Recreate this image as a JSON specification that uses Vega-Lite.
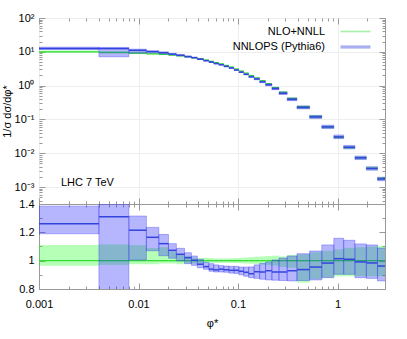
{
  "$schema": "https://vega.github.io/schema/vega-lite/v6.json",
  "padding": {"left": 0, "top": 11, "right": 21, "bottom": 0},
  "config": {
    "font": "Liberation Sans",
    "view": {"stroke": "#999999", "strokeWidth": 1},
    "axis": {"labelFont": "Liberation Sans", "labelFontSize": 11, "labelColor": "#000000", "titleFont": "Liberation Sans", "titleFontSize": 11, "titleFontWeight": "normal", "titleColor": "#000000", "domain": false, "tickColor": "#999999", "grid": false, "labelFlush": false},
    "legend": {"labelFont": "Liberation Sans", "labelFontSize": 11, "labelColor": "#000000"}
  },
  "datasets": {
    "d": [
      {"s":"NLO+NNLL","lo":0.001,"hi":0.004,"v":9.9,"vl":9.55,"vh":10.99,"r":1,"rl":0.965,"rh":1.11},
      {"s":"NLO+NNLL","lo":0.004,"hi":0.008,"v":9.5,"vl":9.22,"vh":10.59,"r":1,"rl":0.97,"rh":1.115},
      {"s":"NLO+NNLL","lo":0.008,"hi":0.012,"v":9.1,"vl":8.87,"vh":10.1,"r":1,"rl":0.975,"rh":1.11},
      {"s":"NLO+NNLL","lo":0.012,"hi":0.016,"v":8.7,"vl":8.48,"vh":9.48,"r":1,"rl":0.975,"rh":1.09},
      {"s":"NLO+NNLL","lo":0.016,"hi":0.02,"v":8.4,"vl":8.23,"vh":9.2,"r":1,"rl":0.98,"rh":1.095},
      {"s":"NLO+NNLL","lo":0.02,"hi":0.024,"v":8.0,"vl":7.84,"vh":8.52,"r":1,"rl":0.98,"rh":1.065},
      {"s":"NLO+NNLL","lo":0.024,"hi":0.029,"v":7.6,"vl":7.41,"vh":7.94,"r":1,"rl":0.975,"rh":1.045},
      {"s":"NLO+NNLL","lo":0.029,"hi":0.034,"v":7.1,"vl":6.96,"vh":7.33,"r":1,"rl":0.98,"rh":1.033},
      {"s":"NLO+NNLL","lo":0.034,"hi":0.039,"v":6.7,"vl":6.57,"vh":6.84,"r":1,"rl":0.98,"rh":1.021},
      {"s":"NLO+NNLL","lo":0.039,"hi":0.045,"v":6.2,"vl":6.09,"vh":6.31,"r":1,"rl":0.982,"rh":1.018},
      {"s":"NLO+NNLL","lo":0.045,"hi":0.051,"v":5.7,"vl":5.61,"vh":5.81,"r":1,"rl":0.985,"rh":1.02},
      {"s":"NLO+NNLL","lo":0.051,"hi":0.057,"v":5.25,"vl":5.17,"vh":5.34,"r":1,"rl":0.985,"rh":1.018},
      {"s":"NLO+NNLL","lo":0.057,"hi":0.064,"v":4.8,"vl":4.73,"vh":4.87,"r":1,"rl":0.985,"rh":1.015},
      {"s":"NLO+NNLL","lo":0.064,"hi":0.072,"v":4.4,"vl":4.33,"vh":4.47,"r":1,"rl":0.985,"rh":1.015},
      {"s":"NLO+NNLL","lo":0.072,"hi":0.081,"v":3.95,"vl":3.89,"vh":4.01,"r":1,"rl":0.985,"rh":1.015},
      {"s":"NLO+NNLL","lo":0.081,"hi":0.091,"v":3.55,"vl":3.49,"vh":3.61,"r":1,"rl":0.984,"rh":1.016},
      {"s":"NLO+NNLL","lo":0.091,"hi":0.102,"v":3.1,"vl":3.05,"vh":3.16,"r":1,"rl":0.983,"rh":1.018},
      {"s":"NLO+NNLL","lo":0.102,"hi":0.114,"v":2.7,"vl":2.65,"vh":2.75,"r":1,"rl":0.982,"rh":1.02},
      {"s":"NLO+NNLL","lo":0.114,"hi":0.128,"v":2.35,"vl":2.3,"vh":2.4,"r":1,"rl":0.98,"rh":1.022},
      {"s":"NLO+NNLL","lo":0.128,"hi":0.145,"v":2.0,"vl":1.96,"vh":2.05,"r":1,"rl":0.978,"rh":1.025},
      {"s":"NLO+NNLL","lo":0.145,"hi":0.165,"v":1.7,"vl":1.66,"vh":1.75,"r":1,"rl":0.975,"rh":1.028},
      {"s":"NLO+NNLL","lo":0.165,"hi":0.189,"v":1.4,"vl":1.36,"vh":1.44,"r":1,"rl":0.972,"rh":1.03},
      {"s":"NLO+NNLL","lo":0.189,"hi":0.219,"v":1.14,"vl":1.1,"vh":1.18,"r":1,"rl":0.968,"rh":1.032},
      {"s":"NLO+NNLL","lo":0.219,"hi":0.258,"v":0.88,"vl":0.849,"vh":0.911,"r":1,"rl":0.965,"rh":1.035},
      {"s":"NLO+NNLL","lo":0.258,"hi":0.312,"v":0.64,"vl":0.611,"vh":0.659,"r":1,"rl":0.955,"rh":1.03},
      {"s":"NLO+NNLL","lo":0.312,"hi":0.391,"v":0.42,"vl":0.399,"vh":0.437,"r":1,"rl":0.95,"rh":1.04},
      {"s":"NLO+NNLL","lo":0.391,"hi":0.524,"v":0.24,"vl":0.203,"vh":0.251,"r":1,"rl":0.845,"rh":1.045},
      {"s":"NLO+NNLL","lo":0.524,"hi":0.695,"v":0.124,"vl":0.108,"vh":0.131,"r":1,"rl":0.87,"rh":1.06},
      {"s":"NLO+NNLL","lo":0.695,"hi":0.918,"v":0.061,"vl":0.0537,"vh":0.0653,"r":1,"rl":0.88,"rh":1.07},
      {"s":"NLO+NNLL","lo":0.918,"hi":1.153,"v":0.03,"vl":0.0267,"vh":0.0324,"r":1,"rl":0.89,"rh":1.08},
      {"s":"NLO+NNLL","lo":1.153,"hi":1.496,"v":0.0149,"vl":0.01326,"vh":0.01624,"r":1,"rl":0.89,"rh":1.09},
      {"s":"NLO+NNLL","lo":1.496,"hi":1.947,"v":0.0074,"vl":0.00659,"vh":0.0081,"r":1,"rl":0.89,"rh":1.095},
      {"s":"NLO+NNLL","lo":1.947,"hi":2.522,"v":0.0036,"vl":0.0032,"vh":0.00396,"r":1,"rl":0.89,"rh":1.1},
      {"s":"NLO+NNLL","lo":2.522,"hi":3.277,"v":0.0018,"vl":0.0016,"vh":0.00199,"r":1,"rl":0.89,"rh":1.105},
      {"s":"NNLOPS (Pythia6)","lo":0.001,"hi":0.004,"v":12.47,"vl":11.78,"vh":13.71,"r":1.26,"rl":1.19,"rh":1.385},
      {"s":"NNLOPS (Pythia6)","lo":0.004,"hi":0.008,"v":12.45,"vl":7.13,"vh":13.49,"r":1.31,"rl":0.75,"rh":1.42},
      {"s":"NNLOPS (Pythia6)","lo":0.008,"hi":0.012,"v":11.06,"vl":9.15,"vh":11.97,"r":1.215,"rl":1.005,"rh":1.315},
      {"s":"NNLOPS (Pythia6)","lo":0.012,"hi":0.016,"v":10.14,"vl":9.31,"vh":10.74,"r":1.165,"rl":1.07,"rh":1.235},
      {"s":"NNLOPS (Pythia6)","lo":0.016,"hi":0.02,"v":9.41,"vl":8.69,"vh":9.95,"r":1.12,"rl":1.035,"rh":1.185},
      {"s":"NNLOPS (Pythia6)","lo":0.02,"hi":0.024,"v":8.58,"vl":8.14,"vh":8.96,"r":1.073,"rl":1.017,"rh":1.12},
      {"s":"NNLOPS (Pythia6)","lo":0.024,"hi":0.029,"v":7.94,"vl":7.58,"vh":8.26,"r":1.045,"rl":0.998,"rh":1.087},
      {"s":"NNLOPS (Pythia6)","lo":0.029,"hi":0.034,"v":7.25,"vl":6.95,"vh":7.5,"r":1.021,"rl":0.979,"rh":1.056},
      {"s":"NNLOPS (Pythia6)","lo":0.034,"hi":0.039,"v":6.72,"vl":6.48,"vh":6.92,"r":1.003,"rl":0.967,"rh":1.033},
      {"s":"NNLOPS (Pythia6)","lo":0.039,"hi":0.045,"v":6.05,"vl":5.89,"vh":6.26,"r":0.975,"rl":0.95,"rh":1.01},
      {"s":"NNLOPS (Pythia6)","lo":0.045,"hi":0.051,"v":5.46,"vl":5.35,"vh":5.63,"r":0.958,"rl":0.939,"rh":0.988},
      {"s":"NNLOPS (Pythia6)","lo":0.051,"hi":0.057,"v":4.94,"vl":4.86,"vh":5.14,"r":0.94,"rl":0.925,"rh":0.979},
      {"s":"NNLOPS (Pythia6)","lo":0.057,"hi":0.064,"v":4.49,"vl":4.42,"vh":4.66,"r":0.935,"rl":0.92,"rh":0.97},
      {"s":"NNLOPS (Pythia6)","lo":0.064,"hi":0.072,"v":4.14,"vl":4.05,"vh":4.25,"r":0.94,"rl":0.92,"rh":0.965},
      {"s":"NNLOPS (Pythia6)","lo":0.072,"hi":0.081,"v":3.7,"vl":3.63,"vh":3.8,"r":0.936,"rl":0.918,"rh":0.962},
      {"s":"NNLOPS (Pythia6)","lo":0.081,"hi":0.091,"v":3.31,"vl":3.24,"vh":3.41,"r":0.932,"rl":0.912,"rh":0.96},
      {"s":"NNLOPS (Pythia6)","lo":0.091,"hi":0.102,"v":2.89,"vl":2.82,"vh":2.98,"r":0.932,"rl":0.91,"rh":0.96},
      {"s":"NNLOPS (Pythia6)","lo":0.102,"hi":0.114,"v":2.5,"vl":2.43,"vh":2.58,"r":0.925,"rl":0.9,"rh":0.955},
      {"s":"NNLOPS (Pythia6)","lo":0.114,"hi":0.128,"v":2.16,"vl":2.09,"vh":2.24,"r":0.918,"rl":0.89,"rh":0.955},
      {"s":"NNLOPS (Pythia6)","lo":0.128,"hi":0.145,"v":1.82,"vl":1.76,"vh":1.91,"r":0.908,"rl":0.88,"rh":0.956},
      {"s":"NNLOPS (Pythia6)","lo":0.145,"hi":0.165,"v":1.57,"vl":1.49,"vh":1.65,"r":0.922,"rl":0.875,"rh":0.97},
      {"s":"NNLOPS (Pythia6)","lo":0.165,"hi":0.189,"v":1.29,"vl":1.22,"vh":1.37,"r":0.92,"rl":0.869,"rh":0.98},
      {"s":"NNLOPS (Pythia6)","lo":0.189,"hi":0.219,"v":1.06,"vl":0.985,"vh":1.13,"r":0.929,"rl":0.864,"rh":0.991},
      {"s":"NNLOPS (Pythia6)","lo":0.219,"hi":0.258,"v":0.81,"vl":0.759,"vh":0.884,"r":0.92,"rl":0.862,"rh":1.005},
      {"s":"NNLOPS (Pythia6)","lo":0.258,"hi":0.312,"v":0.589,"vl":0.55,"vh":0.652,"r":0.92,"rl":0.86,"rh":1.019},
      {"s":"NNLOPS (Pythia6)","lo":0.312,"hi":0.391,"v":0.39,"vl":0.36,"vh":0.434,"r":0.929,"rl":0.857,"rh":1.033},
      {"s":"NNLOPS (Pythia6)","lo":0.391,"hi":0.524,"v":0.225,"vl":0.206,"vh":0.252,"r":0.937,"rl":0.86,"rh":1.049},
      {"s":"NNLOPS (Pythia6)","lo":0.524,"hi":0.695,"v":0.118,"vl":0.107,"vh":0.132,"r":0.955,"rl":0.864,"rh":1.068},
      {"s":"NNLOPS (Pythia6)","lo":0.695,"hi":0.918,"v":0.06,"vl":0.0537,"vh":0.0678,"r":0.983,"rl":0.88,"rh":1.111},
      {"s":"NNLOPS (Pythia6)","lo":0.918,"hi":1.153,"v":0.0304,"vl":0.0271,"vh":0.0347,"r":1.014,"rl":0.904,"rh":1.158},
      {"s":"NNLOPS (Pythia6)","lo":1.153,"hi":1.496,"v":0.01505,"vl":0.01347,"vh":0.01705,"r":1.01,"rl":0.904,"rh":1.144},
      {"s":"NNLOPS (Pythia6)","lo":1.496,"hi":1.947,"v":0.00733,"vl":0.00651,"vh":0.00827,"r":0.991,"rl":0.88,"rh":1.118},
      {"s":"NNLOPS (Pythia6)","lo":1.947,"hi":2.522,"v":0.00354,"vl":0.00315,"vh":0.004,"r":0.984,"rl":0.875,"rh":1.111},
      {"s":"NNLOPS (Pythia6)","lo":2.522,"hi":3.277,"v":0.00173,"vl":0.00154,"vh":0.00196,"r":0.962,"rl":0.857,"rh":1.089}
    ]
  },
  "spacing": 0,
  "bounds": "flush",
  "vconcat": [
    {
      "width": 346,
      "height": 186,
      "data": {"name": "d"},
      "resolve": {"axis": {"x": "independent", "y": "independent"}},
      "layer": [
        {
          "transform": [{"filter": "datum.s == 'NLO+NNLL'"}],
          "mark": {"type": "rect", "fill": "#22ff22", "fillOpacity": 0.33, "clip": true},
          "encoding": {
            "x": {"field": "lo", "type": "quantitative", "scale": {"type": "log", "domain": [0.001, 3], "nice": false},
              "axis": {"orient": "bottom", "values": [0.001, 0.01, 0.1, 1], "labels": false, "tickSize": -6, "grid": true, "gridColor": "#eeeeee", "title": null, "minExtent": 0, "maxExtent": 0}},
            "x2": {"field": "hi"},
            "y": {"field": "vl", "type": "quantitative", "scale": {"type": "log", "domain": [0.000316, 100], "nice": false},
              "axis": {"orient": "left", "values": [0.001, 0.01, 0.1, 1, 10, 100], "tickSize": -6, "labelPadding": 11, "grid": true, "gridColor": "#eeeeee", "title": "1/σ dσ/dφ*", "titlePadding": 2,
                "labelExpr": "datum.value >= 50 ? '10²' : datum.value >= 5 ? '10¹' : datum.value >= 0.5 ? '10⁰' : datum.value >= 0.05 ? '10⁻¹' : datum.value >= 0.005 ? '10⁻²' : '10⁻³'"}},
            "y2": {"field": "vh"}
          }
        },
        {
          "transform": [{"filter": "datum.s == 'NLO+NNLL'"}],
          "mark": {"type": "rule", "strokeWidth": 1.3, "clip": true},
          "encoding": {
            "x": {"field": "lo", "type": "quantitative",
              "axis": {"orient": "bottom", "values": [0.002,0.003,0.004,0.005,0.006,0.007,0.008,0.009,0.02,0.03,0.04,0.05,0.06,0.07,0.08,0.09,0.2,0.3,0.4,0.5,0.6,0.7,0.8,0.9,2,3], "labels": false, "tickSize": -3, "grid": false, "title": null, "minExtent": 0, "maxExtent": 0}},
            "x2": {"field": "hi"},
            "y": {"field": "v", "type": "quantitative",
              "axis": {"orient": "left", "values": [0.0004,0.0005,0.0006,0.0007,0.0008,0.0009,0.002,0.003,0.004,0.005,0.006,0.007,0.008,0.009,0.02,0.03,0.04,0.05,0.06,0.07,0.08,0.09,0.2,0.3,0.4,0.5,0.6,0.7,0.8,0.9,2,3,4,5,6,7,8,9,20,30,40,50,60,70,80,90], "labels": false, "tickSize": -3, "grid": false, "title": null, "minExtent": 0, "maxExtent": 0}},
            "stroke": {"field": "s", "type": "nominal",
              "scale": {"domain": ["NLO+NNLL", "NNLOPS (Pythia6)"], "range": ["#33dd33", "#3344dd"]},
              "legend": {"title": null, "orient": "top-right", "symbolType": "stroke", "symbolSize": 900, "symbolStrokeWidth": 2, "symbolOpacity": 0.42, "labelAlign": "right", "labelOffset": -36, "rowPadding": 3.5, "offset": 8,
                "encode": {"symbols": {"update": {"strokeWidth": {"signal": "datum.label == 'NLO+NNLL' ? 1.6 : 3.2"}}}}}}
          }
        },
        {
          "transform": [{"filter": "datum.s == 'NNLOPS (Pythia6)'"}],
          "mark": {"type": "rect", "fill": "#2222ff", "fillOpacity": 0.33, "stroke": "#3333ee", "strokeOpacity": 0.35, "strokeWidth": 1, "clip": true},
          "encoding": {
            "x": {"field": "lo", "type": "quantitative",
              "axis": {"orient": "top", "values": [0.001, 0.01, 0.1, 1], "labels": false, "tickSize": -6, "grid": false, "title": null, "minExtent": 0, "maxExtent": 0}},
            "x2": {"field": "hi"},
            "y": {"field": "vl", "type": "quantitative",
              "axis": {"orient": "right", "values": [0.001, 0.01, 0.1, 1, 10, 100], "labels": false, "tickSize": -6, "grid": false, "title": null, "minExtent": 0, "maxExtent": 0}},
            "y2": {"field": "vh"}
          }
        },
        {
          "transform": [{"filter": "datum.s == 'NNLOPS (Pythia6)'"}],
          "mark": {"type": "rule", "strokeWidth": 1.5, "clip": true},
          "encoding": {
            "x": {"field": "lo", "type": "quantitative",
              "axis": {"orient": "top", "values": [0.002,0.003,0.004,0.005,0.006,0.007,0.008,0.009,0.02,0.03,0.04,0.05,0.06,0.07,0.08,0.09,0.2,0.3,0.4,0.5,0.6,0.7,0.8,0.9,2,3], "labels": false, "tickSize": -3, "grid": false, "title": null, "minExtent": 0, "maxExtent": 0}},
            "x2": {"field": "hi"},
            "y": {"field": "v", "type": "quantitative",
              "axis": {"orient": "right", "values": [0.0004,0.0005,0.0006,0.0007,0.0008,0.0009,0.002,0.003,0.004,0.005,0.006,0.007,0.008,0.009,0.02,0.03,0.04,0.05,0.06,0.07,0.08,0.09,0.2,0.3,0.4,0.5,0.6,0.7,0.8,0.9,2,3,4,5,6,7,8,9,20,30,40,50,60,70,80,90], "labels": false, "tickSize": -3, "grid": false, "title": null, "minExtent": 0, "maxExtent": 0}},
            "stroke": {"field": "s", "type": "nominal"}
          }
        },
        {
          "data": {"values": [{"label": "LHC 7 TeV"}]},
          "mark": {"type": "text", "align": "left", "baseline": "middle", "fontSize": 11, "font": "Liberation Sans", "color": "#000000"},
          "encoding": {
            "x": {"datum": 0.00166, "type": "quantitative", "axis": null},
            "y": {"datum": 0.00134, "type": "quantitative", "axis": null},
            "text": {"field": "label"}
          }
        }
      ]
    },
    {
      "width": 346,
      "height": 85,
      "data": {"name": "d"},
      "resolve": {"axis": {"x": "independent", "y": "independent"}},
      "layer": [
        {
          "transform": [{"filter": "datum.s == 'NLO+NNLL'"}],
          "mark": {"type": "rect", "fill": "#22ff22", "fillOpacity": 0.33, "clip": true},
          "encoding": {
            "x": {"field": "lo", "type": "quantitative", "scale": {"type": "log", "domain": [0.001, 3], "nice": false},
              "axis": {"orient": "bottom", "values": [0.001, 0.01, 0.1, 1], "format": "~g", "tickSize": -6, "labelPadding": 15, "labelFlush": false, "grid": false, "title": "φ*", "titlePadding": 8}},
            "x2": {"field": "hi"},
            "y": {"field": "rl", "type": "quantitative", "scale": {"domain": [0.8, 1.4], "nice": false, "zero": false},
              "axis": {"orient": "left", "values": [0.8, 1, 1.2, 1.4], "format": "~g", "tickSize": -6, "labelPadding": 11, "labelFlush": false, "grid": false, "title": null}},
            "y2": {"field": "rh"}
          }
        },
        {
          "transform": [{"filter": "datum.s == 'NLO+NNLL'"}],
          "mark": {"type": "rule", "strokeWidth": 1.3, "stroke": "#33dd33", "clip": true},
          "encoding": {
            "x": {"field": "lo", "type": "quantitative",
              "axis": {"orient": "bottom", "values": [0.002,0.003,0.004,0.005,0.006,0.007,0.008,0.009,0.02,0.03,0.04,0.05,0.06,0.07,0.08,0.09,0.2,0.3,0.4,0.5,0.6,0.7,0.8,0.9,2,3], "labels": false, "tickSize": -3, "grid": false, "title": null, "minExtent": 0, "maxExtent": 0}},
            "x2": {"field": "hi"},
            "y": {"field": "r", "type": "quantitative",
              "axis": {"orient": "left", "values": [0.9, 1.1, 1.3], "labels": false, "tickSize": -3, "grid": false, "title": null, "minExtent": 0, "maxExtent": 0}}
          }
        },
        {
          "transform": [{"filter": "datum.s == 'NNLOPS (Pythia6)'"}],
          "mark": {"type": "rect", "fill": "#2222ff", "fillOpacity": 0.33, "stroke": "#3333ee", "strokeOpacity": 0.35, "strokeWidth": 1, "clip": true},
          "encoding": {
            "x": {"field": "lo", "type": "quantitative",
              "axis": {"orient": "top", "values": [0.001, 0.01, 0.1, 1], "labels": false, "tickSize": -6, "grid": false, "title": null, "minExtent": 0, "maxExtent": 0}},
            "x2": {"field": "hi"},
            "y": {"field": "rl", "type": "quantitative",
              "axis": {"orient": "right", "values": [0.8, 1, 1.2, 1.4], "labels": false, "tickSize": -6, "grid": false, "title": null, "minExtent": 0, "maxExtent": 0}},
            "y2": {"field": "rh"}
          }
        },
        {
          "transform": [{"filter": "datum.s == 'NNLOPS (Pythia6)'"}],
          "mark": {"type": "rule", "strokeWidth": 1.5, "stroke": "#3344dd", "clip": true},
          "encoding": {
            "x": {"field": "lo", "type": "quantitative",
              "axis": {"orient": "top", "values": [0.002,0.003,0.004,0.005,0.006,0.007,0.008,0.009,0.02,0.03,0.04,0.05,0.06,0.07,0.08,0.09,0.2,0.3,0.4,0.5,0.6,0.7,0.8,0.9,2,3], "labels": false, "tickSize": -3, "grid": false, "title": null, "minExtent": 0, "maxExtent": 0}},
            "x2": {"field": "hi"},
            "y": {"field": "r", "type": "quantitative",
              "axis": {"orient": "right", "values": [0.9, 1.1, 1.3], "labels": false, "tickSize": -3, "grid": false, "title": null, "minExtent": 0, "maxExtent": 0}}
          }
        }
      ]
    }
  ]
}
